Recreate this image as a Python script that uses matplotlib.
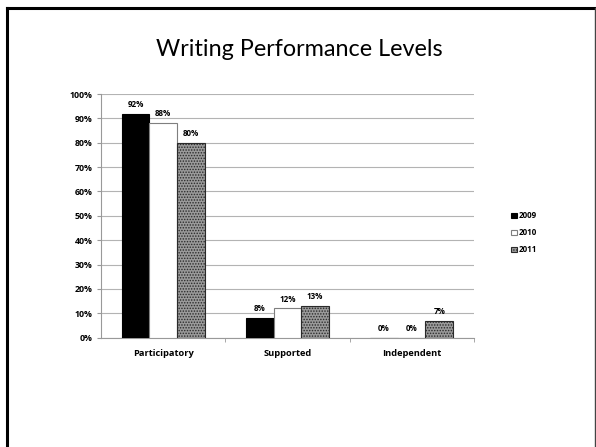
import numpy as np
import matplotlib.pyplot as plt
from matplotlib.lines import Line2D

# Daten
categories = ['Participatory', 'Supported', 'Independent']
years = ['2009', '2010', '2011']
v2009 = [92, 8, 0]
v2010 = [88, 12, 0]
v2011 = [80, 13, 7]

plt.rcParams['font.family'] = ['Open Sans', 'DejaVu Sans']
plt.rcParams['hatch.linewidth'] = 0.7

fig = plt.figure(figsize=(5.96, 4.47), dpi=100)
ax = fig.add_axes([0.1695, 0.2445, 0.6255, 0.5452])

x = np.arange(len(categories))
w = 2 / 9
styles = [
    dict(facecolor='black', edgecolor='black'),
    dict(facecolor='white', edgecolor='#7f7f7f'),
    dict(facecolor='#9a9a9a', edgecolor='#2a2a2a', hatch='......'),
]
for i, (vals, st) in enumerate(zip([v2009, v2010, v2011], styles)):
    bars = ax.bar(x + (i - 1) * w, vals, w, label=years[i], linewidth=0.8, zorder=3, **st)
    for b, v in zip(bars, vals):
        ax.text(b.get_x() + b.get_width() / 2, v + 2, f'{v}%', ha='center', va='bottom',
                fontsize=5.8, fontweight='bold')

ax.set_xlim(-0.5, 2.5)
ax.set_ylim(0, 100)
ax.set_yticks(np.arange(0, 101, 10))
ax.set_yticklabels([f'{t}%' for t in range(0, 101, 10)], fontsize=6.3, fontweight='bold')
ax.yaxis.grid(True, color='#b3b3b3', linewidth=0.8, zorder=0)
ax.tick_params(axis='y', length=3, color='#999999', pad=3)

ax.set_xticks(x)
ax.set_xticklabels(categories, fontsize=6.7, fontweight='bold')
ax.tick_params(axis='x', length=0, pad=8)
ax.set_xticks([0.5, 1.5, 2.5], minor=True)
ax.tick_params(axis='x', which='minor', length=3, color='#999999')

for s in ['top', 'right']:
    ax.spines[s].set_visible(False)
for s in ['left', 'bottom']:
    ax.spines[s].set_color('#999999')
    ax.spines[s].set_linewidth(0.8)

leg = ax.legend(loc='center left', bbox_to_anchor=(1.08, 0.43), frameon=False,
                handlelength=0.7, handleheight=0.7, handletextpad=0.3,
                labelspacing=1.0, prop={'weight': 'bold', 'size': 5.8})

fig.text(0.503, 0.889, 'Writing Performance Levels', ha='center', va='center',
         fontsize=16.8, family=['Lato', 'DejaVu Sans'])

# Folienrahmen
fig.add_artist(Line2D([0.012, 0.012], [0.0, 0.983], color='black', linewidth=2.2,
                      transform=fig.transFigure))
fig.add_artist(Line2D([0.012, 0.998], [0.983, 0.983], color='black', linewidth=2.2,
                      transform=fig.transFigure))
fig.add_artist(Line2D([0.998, 0.998], [0.0, 0.983], color='#444444', linewidth=1,
                      transform=fig.transFigure))

fig.savefig('out.png', dpi=100)
